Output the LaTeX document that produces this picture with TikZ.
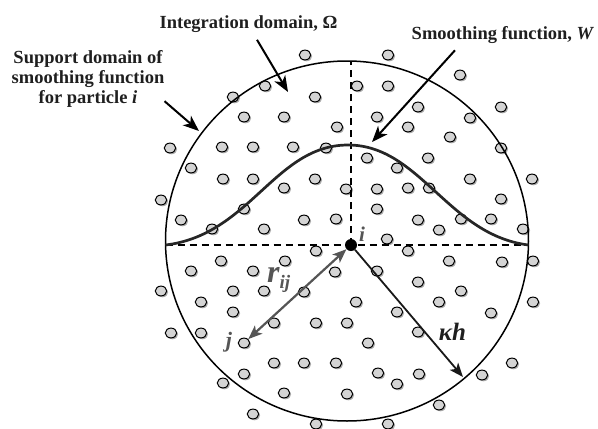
\documentclass[tikz,border=0pt]{standalone}
\usepackage{fontspec}
\setmainfont{Liberation Serif}
\usetikzlibrary{arrows.meta, shapes.geometric, shadows}

\definecolor{partfill}{HTML}{D4D4D4}
\definecolor{labgray}{HTML}{555555}
\definecolor{curvecol}{HTML}{262626}

\tikzset{
  particle/.style={ellipse, draw=black, line width=1pt, fill=partfill,
    minimum width=11.5pt, minimum height=9.8pt, inner sep=0pt,
    drop shadow={shadow xshift=1.4pt, shadow yshift=-1.4pt, fill=black!65, opacity=0.5}},
  centre/.style={circle, fill=black, minimum size=12pt, inner sep=0pt},
  axisline/.style={dash pattern=on 7.5pt off 4.5pt, line width=1.5pt},
  callout/.style={line width=2pt, -{Stealth[length=16pt, width=12.5pt, inset=4.5pt]}},
  biglabel/.style={font=\fontsize{18.5}{20}\selectfont\bfseries, text=black!88, inner sep=0pt},
  symlabel/.style={font=\fontsize{#1}{#1}\selectfont\bfseries\itshape, inner sep=0pt},
}

\begin{document}
\begin{tikzpicture}[x=1pt, y=-1pt]
  \useasboundingbox (0,0) rectangle (598,429);

  % Particles
  \foreach \px/\py [count=\n] in {305/55, 388/55, 460/75, 265/86, 357/86, 388/86,
      233/97, 315/97, 418/107, 501/107, 244/117, 284/117, 377/117, 470/118,
      337/127, 408/127, 450/137, 170/148, 222/147, 253/147, 293/147, 326/148,
      501/148, 367/158, 428/158, 191/168, 397/168, 223/179, 253/179, 315/179,
      470/179, 532/179, 284/188, 346/189, 377/189, 408/188, 429/188, 161/200,
      501/199, 244/209, 377/209, 181/220, 304/220, 336/219, 418/220, 461/219,
      491/219, 212/229, 264/229, 439/230, 523/229, 387/239, 316/251, 408/251,
      221/261, 285/261, 449/261, 502/262, 533/261, 191/271, 253/271, 335/272,
      377/271, 418/282, 161/291, 233/291, 264/291, 304/292, 461/291, 201/302,
      356/302, 439/302, 533/302, 233/312, 397/312, 491/313, 274/323, 316/323,
      347/323, 171/333, 201/333, 418/332, 368/343, 274/363, 304/363, 336/363,
      512/363, 244/374, 378/373, 419/374, 482/375, 223/383, 397/384, 284/393,
      347/394, 439/405, 253/414, 316/424, 388/424}
    \node[particle] (p\n) at (\px,\py) {};
  \node[particle] (j) at (244,343) {};

  % Support domain and axes
  \draw[line width=1.5pt] (347,241) ellipse [x radius=181.5pt, y radius=180pt];
  \node[centre] (i) at (351,245) {};
  \coordinate (west) at (165.5,245);
  \coordinate (east) at (528.5,245);
  \coordinate (north) at (351,61);
  \draw[axisline] (west) -- (east);
  \draw[axisline] (i.center) -- (north);

  % Smoothing function W
  \draw[line width=2.7pt, curvecol] (west) .. controls (250,235) and (275,145) .. (348,145)
    .. controls (420,145) and (448,235) .. (east);

  % Distances r_ij and kappa h
  \coordinate (khend) at (463,377);
  \draw[line width=2.2pt, labgray, {Stealth[length=14pt, width=11pt, inset=3.5pt]}-{Stealth[length=14pt, width=11pt, inset=3.5pt]}] (j) -- (i);
  \draw[line width=1.8pt, black!90, -{Stealth[length=14pt, width=11pt, inset=3.5pt]}] (i) -- (khend);

  % Labels
  \node[biglabel, anchor=base] (intlab) at (248.5,28.5) {Integration domain, Ω};
  \node[biglabel, align=center] (suplab) at (88,78.5) {Support domain of\\smoothing function\\for particle \textit{i}};
  \node[biglabel, anchor=base] (wlab) at (503,39.5) {Smoothing function, \textit{W}};
  \coordinate (inttip) at (288,92);
  \coordinate (suptip) at (199,131);
  \coordinate (wtip) at (372,142);
  \draw[callout] ([xshift=8.5pt, yshift=-7pt]intlab.south) -- (inttip);
  \draw[callout] ([yshift=6pt]suplab.south east) -- (suptip);
  \draw[callout] ([xshift=-48pt, yshift=-6.5pt]wlab.south) -- (wtip);

  \node[symlabel=21, text=labgray, anchor=base] (ilab) at (362,241) {i};
  \node[symlabel=22, text=labgray, anchor=base] (jlab) at (229,347) {j};
  \node[symlabel=32, text=labgray, anchor=base west] (rlab) at (267,282) {r\raisebox{-6pt}{\fontsize{19}{19}\selectfont ij}};
  \node[symlabel=25, text=black!88, anchor=base] (khlab) at (452.5,340) {κh};
\end{tikzpicture}
\end{document}
